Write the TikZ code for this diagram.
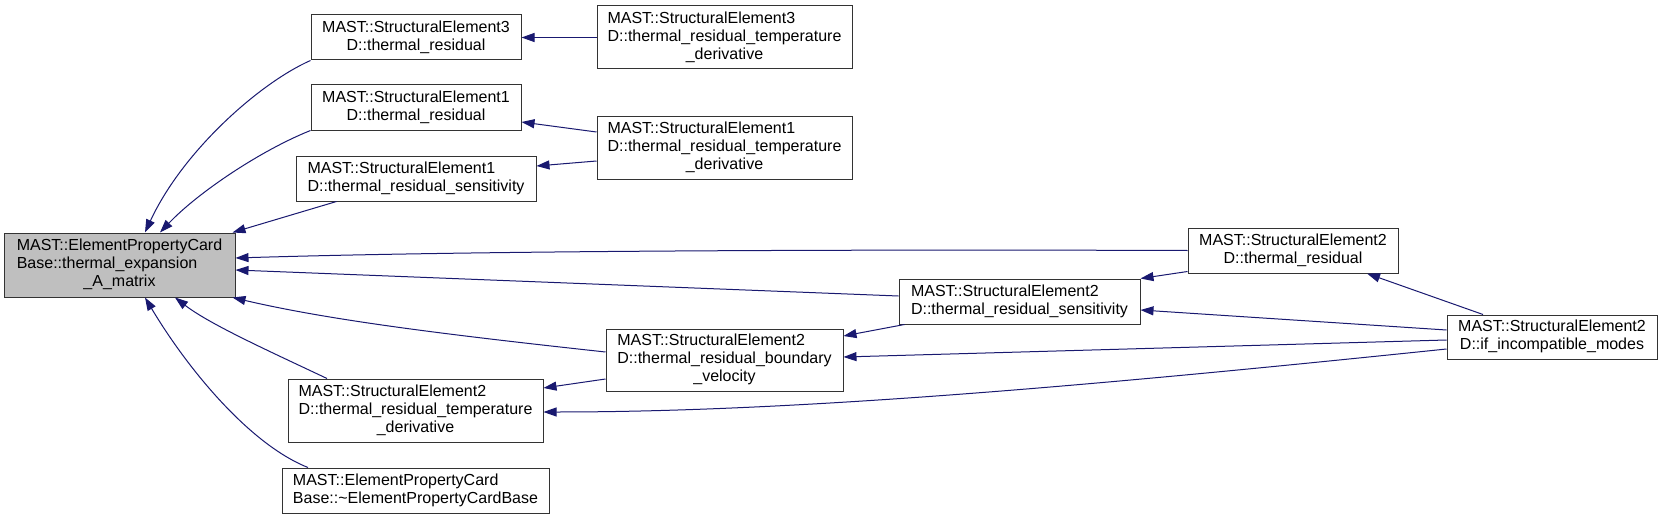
\documentclass[tikz,border=0pt]{standalone}
\usepackage{fontspec}
\setmainfont{Liberation Sans}
\usetikzlibrary{arrows.meta}
\definecolor{edgecol}{HTML}{191970}
\definecolor{boxline}{HTML}{333333}
\definecolor{mainfill}{HTML}{BFBFBF}
\newcommand{\tlines}[2]{\begin{tabular}{@{}l@{}}#1\\\multicolumn{1}{@{}c@{}}{#2}\end{tabular}}
\begin{document}
\begin{tikzpicture}[x=1pt,y=-1pt,
  every node/.style={font=\fontsize{16pt}{18pt}\selectfont},
  fbox/.style={draw=boxline, line width=1pt, fill=white, inner sep=0pt, rectangle},
  conn/.style={draw=edgecol, line width=1pt, -{Triangle[length=13pt,width=9pt]}}]
\useasboundingbox[fill=white] (0,0) rectangle (1663,519);

\node[fbox, fill=mainfill, minimum width=231pt, minimum height=64pt] (A) at (119.5,265)
  {\tlines{MAST::ElementPropertyCard\\Base::thermal\_expansion}{\_A\_matrix}};
\node[fbox, minimum width=210pt, minimum height=45pt] (B3) at (416,37.5)
  {\tlines{MAST::StructuralElement3}{D::thermal\_residual}};
\node[fbox, minimum width=210pt, minimum height=45pt] (B1) at (416,107.5)
  {\tlines{MAST::StructuralElement1}{D::thermal\_residual}};
\node[fbox, minimum width=240pt, minimum height=45pt] (S1) at (416,178.5)
  {\tlines{MAST::StructuralElement1}{D::thermal\_residual\_sensitivity}};
\node[fbox, minimum width=255pt, minimum height=63pt] (C3) at (724.5,37.5)
  {\tlines{MAST::StructuralElement3\\D::thermal\_residual\_temperature}{\_derivative}};
\node[fbox, minimum width=255pt, minimum height=63pt] (C1) at (724.5,148)
  {\tlines{MAST::StructuralElement1\\D::thermal\_residual\_temperature}{\_derivative}};
\node[fbox, minimum width=210pt, minimum height=45pt] (R2) at (1293,250.5)
  {\tlines{MAST::StructuralElement2}{D::thermal\_residual}};
\node[fbox, minimum width=241pt, minimum height=45pt] (S2) at (1019.5,301.5)
  {\tlines{MAST::StructuralElement2}{D::thermal\_residual\_sensitivity}};
\node[fbox, minimum width=237pt, minimum height=62pt] (BV) at (724.5,360)
  {\tlines{MAST::StructuralElement2\\D::thermal\_residual\_boundary}{\_velocity}};
\node[fbox, minimum width=255pt, minimum height=63pt] (T2) at (415.5,410.5)
  {\tlines{MAST::StructuralElement2\\D::thermal\_residual\_temperature}{\_derivative}};
\node[fbox, minimum width=267pt, minimum height=45pt] (D) at (415.5,490.5)
  {\tlines{MAST::ElementPropertyCard}{Base::\textasciitilde ElementPropertyCardBase}};
\node[fbox, minimum width=210pt, minimum height=44pt] (I) at (1552,337)
  {\tlines{MAST::StructuralElement2}{D::if\_incompatible\_modes}};

% edges
\draw[conn] (C3.west) -- (B3.east);
\draw[conn] ([yshift=16pt]C1.west) -- ([yshift=-14.5pt]B1.east);
\draw[conn] ([yshift=-13pt]C1.west) -- ([yshift=12.5pt]S1.east);
\draw[conn] (B3.south west) .. controls +(-50,22) and +(38,-82) .. ([xshift=25.5pt]A.north);
\draw[conn] (B1.south west) .. controls +(-50,20) and +(38,-40) .. ([xshift=40.5pt]A.north);
\draw[conn] ([xshift=41pt]S1.south west) -- ([xshift=-3pt]A.north east);
\draw[conn] (R2.west) .. controls +(-290,-1) and +(264,-8) .. ([yshift=7pt]A.east);
\draw[conn] ([yshift=5.5pt]S2.west) -- ([yshift=-5pt]A.east);
\draw[conn] ([yshift=8pt]BV.west) .. controls +(-156,-17) and +(98,23) .. ([xshift=-3pt]A.south east);
\draw[conn] ([xshift=-88.5pt]T2.north) .. controls +(-57,-27) and +(35,27) .. ([xshift=55.5pt]A.south);
\draw[conn] ([xshift=-107.5pt]D.north) .. controls +(-58,-23) and +(43,72) .. ([xshift=25.5pt]A.south);
\draw[conn] ([yshift=-19pt]BV.west) -- ([yshift=22.5pt]T2.east);
\draw[conn] ([yshift=-12pt]I.west) .. controls +(-347,36) and +(257,0) .. ([yshift=-1.5pt]T2.east);
\draw[conn] ([yshift=2pt]R2.south west) -- (S2.north east);
\draw[conn] ([yshift=7pt]I.west) -- ([yshift=-8.5pt]S2.east);
\draw[conn] ([xshift=-69pt]I.north) -- ([xshift=74pt]R2.south);
\draw[conn] ([yshift=-3pt]I.west) -- ([yshift=3pt]BV.east);
\draw[conn] ([xshift=6pt]S2.south west) -- ([yshift=24pt]BV.east);
\end{tikzpicture}
\end{document}
